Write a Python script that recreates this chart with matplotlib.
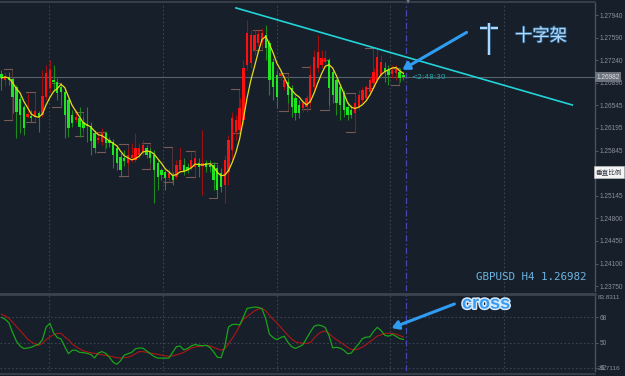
import matplotlib
matplotlib.use('Agg')
import matplotlib.pyplot as plt
import numpy as np
import pandas as pd
from matplotlib.patches import FancyArrowPatch
import matplotlib.patheffects as pe
import matplotlib.transforms as mtransforms

# ---------------- data (GBPUSD H4) ----------------
opens = [1.27029, 1.26936, 1.26982, 1.26951, 1.26828, 1.26642, 1.26519, 1.26364, 1.26380, 1.26364,
         1.26426, 1.26395, 1.26673, 1.26812, 1.26936, 1.26905, 1.26828, 1.26751, 1.26627, 1.26395,
         1.26318, 1.26349, 1.26287, 1.26256, 1.26225, 1.26117, 1.26009, 1.25978, 1.26117, 1.26009,
         1.25978, 1.25885, 1.25746, 1.25731, 1.25654, 1.25731, 1.25700, 1.25777, 1.25824, 1.25885,
         1.25824, 1.25777, 1.25654, 1.25545, 1.25515, 1.25422, 1.25468, 1.25437, 1.25545, 1.25623,
         1.25592, 1.25576, 1.25592, 1.25654, 1.25607, 1.25654, 1.25623, 1.25623, 1.25576, 1.25499,
         1.25314, 1.25515, 1.25854, 1.26133, 1.26163, 1.26318, 1.27168, 1.27199, 1.27399, 1.27508,
         1.27523, 1.27631, 1.27508, 1.27214, 1.27013, 1.26998, 1.26828, 1.26905, 1.26812, 1.26658,
         1.26550, 1.26503, 1.26519, 1.26581, 1.26828, 1.27121, 1.27168, 1.27214, 1.27245, 1.27060,
         1.26936, 1.26828, 1.26735, 1.26519, 1.26472, 1.26426, 1.26519, 1.26627, 1.26658, 1.26751,
         1.26890, 1.26936, 1.27013, 1.27121, 1.27090, 1.27029, 1.27044, 1.27060, 1.27013]
closes = [1.26967, 1.26998, 1.26936, 1.26673, 1.26442, 1.26395, 1.26194, 1.26411, 1.26349, 1.26457,
          1.26364, 1.26689, 1.27044, 1.27090, 1.26905, 1.26735, 1.26751, 1.26395, 1.26194, 1.26272,
          1.26364, 1.26210, 1.26194, 1.26225, 1.25994, 1.25885, 1.26040, 1.26117, 1.25963, 1.25963,
          1.25777, 1.25654, 1.25545, 1.25685, 1.25777, 1.25777, 1.25885, 1.25885, 1.25932, 1.25777,
          1.25731, 1.25545, 1.25437, 1.25468, 1.25422, 1.25499, 1.25391, 1.25623, 1.25700, 1.25515,
          1.25545, 1.25700, 1.25731, 1.25592, 1.25654, 1.25592, 1.25592, 1.25391, 1.25236, 1.25283,
          1.25700, 1.26009, 1.26349, 1.26318, 1.26503, 1.27121, 1.27662, 1.27631, 1.27631, 1.27647,
          1.27662, 1.27430, 1.26936, 1.26828, 1.26673, 1.27029, 1.26936, 1.26704, 1.26519, 1.26426,
          1.26426, 1.26581, 1.26658, 1.27013, 1.27291, 1.27369, 1.27276, 1.27276, 1.26812, 1.26704,
          1.26581, 1.26550, 1.26472, 1.26395, 1.26395, 1.26581, 1.26704, 1.26781, 1.26828, 1.26936,
          1.27060, 1.27291, 1.27214, 1.27060, 1.27013, 1.27090, 1.27121, 1.26967, 1.26982]
highs = [1.27090, 1.27060, 1.27060, 1.26982, 1.26859, 1.26689, 1.26550, 1.26735, 1.26472, 1.26550,
         1.26457, 1.27090, 1.27168, 1.27245, 1.27168, 1.26967, 1.26874, 1.26812, 1.26658, 1.26472,
         1.26472, 1.26519, 1.26364, 1.26519, 1.26287, 1.26163, 1.26133, 1.26194, 1.26148, 1.26055,
         1.26024, 1.25932, 1.25808, 1.25854, 1.25885, 1.25963, 1.26117, 1.25963, 1.26009, 1.25932,
         1.25885, 1.25854, 1.25700, 1.25576, 1.25545, 1.25576, 1.25515, 1.25700, 1.25901, 1.25731,
         1.25654, 1.25824, 1.25854, 1.25731, 1.26163, 1.25700, 1.25700, 1.25669, 1.25623, 1.25576,
         1.25777, 1.26086, 1.26442, 1.26395, 1.26658, 1.27245, 1.27863, 1.27708, 1.27708, 1.27708,
         1.27739, 1.27786, 1.27554, 1.27276, 1.27090, 1.27090, 1.27013, 1.26967, 1.26859, 1.26704,
         1.26627, 1.26627, 1.26704, 1.27168, 1.27399, 1.27631, 1.27399, 1.27399, 1.27276, 1.27090,
         1.26967, 1.26859, 1.26781, 1.26596, 1.26550, 1.26627, 1.26781, 1.26828, 1.26859, 1.26982,
         1.27121, 1.27430, 1.27322, 1.27214, 1.27168, 1.27168, 1.27168, 1.27121, 1.27060]
lows = [1.26781, 1.26843, 1.26859, 1.26426, 1.26040, 1.26117, 1.26086, 1.26349, 1.26287, 1.26318,
        1.26133, 1.26364, 1.26627, 1.26751, 1.26781, 1.26627, 1.26550, 1.26040, 1.26055, 1.26210,
        1.26287, 1.26055, 1.26163, 1.25978, 1.25777, 1.25808, 1.25963, 1.25932, 1.25885, 1.25901,
        1.25576, 1.25545, 1.25437, 1.25607, 1.25607, 1.25669, 1.25669, 1.25731, 1.25777, 1.25731,
        1.25654, 1.25036, 1.25236, 1.25391, 1.25236, 1.25360, 1.25314, 1.25406, 1.25515, 1.25468,
        1.25499, 1.25545, 1.25545, 1.25437, 1.25159, 1.25515, 1.25515, 1.25236, 1.25113, 1.25206,
        1.25036, 1.25314, 1.25700, 1.26009, 1.26086, 1.26241, 1.27090, 1.27121, 1.27322, 1.27461,
        1.27477, 1.27245, 1.26704, 1.26627, 1.26503, 1.26936, 1.26781, 1.26581, 1.26364, 1.26318,
        1.26349, 1.26442, 1.26442, 1.26550, 1.26781, 1.27060, 1.27121, 1.27168, 1.26550, 1.26581,
        1.26395, 1.26318, 1.26364, 1.26318, 1.26349, 1.26133, 1.26472, 1.26581, 1.26627, 1.26704,
        1.26828, 1.26905, 1.26967, 1.26905, 1.26859, 1.26967, 1.26936, 1.26905, 1.26936]

# oscillator (lower panel)
osc_fast = [68, 66.5, 64, 57, 51, 47.5, 45.7, 46, 46.6, 47.8,
            48.8, 52, 61, 63.7, 57, 53.5, 52.5, 47, 42, 44.5,
            44.5, 43, 42.8, 42.3, 41.5, 39, 42.5, 43.5, 42.3, 39.5,
            36, 34.5, 37, 41, 42, 43, 45.5, 46.1, 46, 44,
            42, 40, 38.9, 38.9, 38.9, 38.9, 43, 47, 47.5, 44.8,
            45.7, 47.5, 48.6, 48, 47.7, 48, 46.5, 43.4, 39.5, 39.2,
            47, 61, 62.8, 63, 62.5, 68, 74.3, 74.8, 75.2, 75,
            74, 67, 56, 53.5, 52, 53.5, 54.5, 50, 47, 45.8,
            47, 48.5, 53, 57.5, 61.5, 62.5, 62, 60.7, 55, 46.2,
            46.6, 46, 44.5, 42, 42.5, 46, 49, 52.8, 53.8, 54,
            58, 60.8, 58.5, 55.2, 54.5, 55.8, 54.5, 52.8, 52.2]
osc_slow = [70.2, 69, 67.2, 64.5, 61.5, 58.5, 55.5, 52.5, 50.5, 49,
            48, 49.5, 52, 54, 55.5, 56.5, 56.5, 54, 52, 49,
            47, 45.5, 44, 43.3, 42.7, 42.3, 41.8, 41.3, 40.8, 40.3,
            39.8, 39.2, 38.9, 39.2, 39.6, 40.5, 42, 43.5, 43.5, 43,
            42.5, 42, 41.5, 41, 40.5, 40.1, 40.5, 41.2, 42, 43,
            44.5, 46, 46.8, 47.2, 47.5, 48, 47.5, 46.5, 45.5, 44.5,
            45.5, 49, 52.9, 57, 62, 66.5, 68.5, 70.5, 72.5, 73.8,
            74.5, 72.5, 69.5, 66.5, 64, 61, 58, 55, 52.5, 50.5,
            49.8, 49.5, 49.4, 50, 53, 55.8, 57.5, 58.2, 56.5, 54,
            52, 50.5, 48.5, 46.5, 45, 44.8, 45.5, 46.8, 48.5, 50.5,
            52.5, 54.6, 55.5, 56.5, 56.5, 56.5, 56, 55, 54]

# daily high/low brackets: start bar, top, bottom
box_bar = [1, 7, 14, 20, 26, 32, 38, 44, 50, 56, 62, 68, 75, 81, 86, 93, 98, 105]
box_top = [1.27106, 1.26751, 1.26890, 1.26442, 1.26133, 1.25947, 1.25963, 1.25901, 1.25839,
           1.25654, 1.26797, 1.27708, 1.27044, 1.27137, 1.27245, 1.26735, 1.27430, 1.27121]
box_bot = [1.26318, 1.26287, 1.26519, 1.26071, 1.25824, 1.25453, 1.25561, 1.25360, 1.25437,
           1.25113, 1.26117, 1.27399, 1.26457, 1.26488, 1.26472, 1.26133, 1.26812, 1.26859]

# trend line (bar, price)
trend_x = [63.0, 153.4]
trend_y = [1.2805, 1.2655]

price_ticks = [1.27940, 1.27590, 1.27240, 1.26890, 1.26545, 1.26195, 1.25845,
               1.25145, 1.24800, 1.24450, 1.24100, 1.23750]
osc_levels = [68, 50, 32]
last_price = 1.26982
ma_period = 6

# ---------------- styling ----------------
BG = '#171f2a'
GRID = '#3b4451'
TXT = '#8a919b'
LBL_FONT = 'Liberation Sans'
W, H = 625, 376

fig = plt.figure(figsize=(W / 100, H / 100), dpi=100, facecolor=BG)

def fx(px):
    return px / W

def fy(py):
    return 1 - py / H

ax = fig.add_axes([0, fy(291), fx(595), (291 - 3) / H], facecolor=BG)
ax2 = fig.add_axes([0, fy(371), fx(595), (371 - 295) / H], facecolor=BG)

n = len(closes)
x = np.arange(n)
xl = (-0.4, 159.5)
for a in (ax, ax2):
    a.set_xlim(*xl)
    for s in ('top', 'left', 'bottom'):
        a.spines[s].set_visible(False)
    a.spines['right'].set_color('#4a525e')
    a.spines['right'].set_linewidth(1)
    a.set_xticks([])
    a.yaxis.tick_right()
    a.tick_params(axis='y', colors='#5a626d', labelcolor=TXT, labelsize=4.7,
                  length=2, width=0.6, pad=1.2)
    for lab in a.get_yticklabels():
        lab.set_family(LBL_FONT)
    # vertical dotted grid
    for gx in np.arange(12.85, 160, 30.54):
        a.axvline(gx, color=GRID, lw=0.8, ls=(0, (1.5, 2)), zorder=0)
    a.axvline(108.74, color='#4646b4', lw=0.9, ls=(0, (5, 2, 1, 2)), zorder=1)

ax.set_ylim(1.23676, 1.28126)
ax.set_yticks(price_ticks)
ax.set_yticklabels(['%.5f' % t for t in price_ticks], family=LBL_FONT)

o = np.array(opens); c = np.array(closes); h = np.array(highs); l = np.array(lows)
up = c >= o
# wicks
ax.vlines(x[up], l[up], h[up], color='#9c1010', lw=0.8, zorder=2)
ax.vlines(x[~up], l[~up], h[~up], color='#1c8a1c', lw=0.8, zorder=2)
# bodies
bh = np.maximum(np.abs(c - o), 0.00012)
bb = np.minimum(o, c)
ax.bar(x[up], bh[up], bottom=bb[up], width=0.62, color='#ff1010', lw=0, zorder=3)
ax.bar(x[~up], bh[~up], bottom=bb[~up], width=0.62, color='#1ee61e', lw=0, zorder=3)

# daily brackets
for b, t, bt in zip(box_bar, box_top, box_bot):
    ax.plot([b - 0.3, b + 1.9], [t, t], color='#7a5a56', lw=0.8, zorder=1.5)
    ax.plot([b - 0.3, b + 1.9], [bt, bt], color='#7a5a56', lw=0.8, zorder=1.5)
    ax.plot([b + 1.9, b + 1.9], [bt, t], color='#5a3a3a', lw=0.6, zorder=1.2)

# moving average
ma = pd.Series(closes).rolling(ma_period, min_periods=1).mean()
ax.plot(x, ma, color='#e6dc1c', lw=0.9, zorder=4)

# current price line
ax.axhline(last_price, color='#59616c', lw=0.8, zorder=1)
# trend line
ax.plot(trend_x, trend_y, color='#22d3d8', lw=1.2, zorder=5)

# right-side labels
trans = mtransforms.blended_transform_factory(ax.transAxes, ax.transData)
ax.text(1.003, last_price, '%.5f' % last_price, transform=trans, fontsize=4.7, color='#dde0e5',
        va='center', ha='left', zorder=10, clip_on=False, family=LBL_FONT,
        bbox=dict(boxstyle='square,pad=0.2', fc='#6c727c', ec='none'))
ax.text(110.0, last_price, '<2:48:30', fontsize=5.3, color='#20a8a8', va='center', ha='left',
        zorder=6)
fig.text(fx(609), fy(172), '垂直比例', fontsize=4.8, color='#333a44', ha='center', va='center',
         family=['Noto Sans CJK SC', 'DejaVu Sans'],
         bbox=dict(boxstyle='square,pad=0.25', fc='#f4f4f4', ec='#bbbbbb', lw=0.5))

# lower panel
ax2.set_ylim(29.7116, 83.8311)
ax2.set_yticks(osc_levels)
ax2.set_yticklabels([str(v) for v in osc_levels], family=LBL_FONT)
for v in osc_levels:
    ax2.axhline(v, color=GRID, lw=0.8, ls=(0, (1.5, 2)), zorder=0)
ax2.plot(x, osc_slow, color='#b01616', lw=0.8, zorder=3)
ax2.plot(x, osc_fast, color='#1aa31a', lw=0.9, zorder=4)
trans2 = mtransforms.blended_transform_factory(ax2.transAxes, ax2.transData)
ax2.text(1.005, 83.8311, '83.8311', transform=trans2, fontsize=4.6, color=TXT, va='top',
         ha='left', clip_on=False, family=LBL_FONT)
ax2.text(1.005, 29.7116, '29.7116', transform=trans2, fontsize=4.6, color=TXT, va='bottom',
         ha='left', clip_on=False, family=LBL_FONT)

# frame lines
fig.add_artist(plt.Line2D([0, fx(595)], [fy(1.5), fy(1.5)], color='#3c4450', lw=1.2))
fig.add_artist(plt.Line2D([0, fx(595)], [fy(293.5), fy(293.5)], color='#3c4450', lw=2.0))
fig.add_artist(plt.Line2D([0, fx(595)], [fy(373.5), fy(373.5)], color='#3c4450', lw=1.2))
fig.text(fx(408), fy(2), '▼', fontsize=4, color='#6c7480', ha='center', va='center')

# annotations
arrow_kw = dict(arrowstyle='-|>,head_length=4,head_width=2.5', color='#2f9cf2', lw=2.2,
                transform=fig.transFigure, zorder=20)
fig.add_artist(FancyArrowPatch((fx(469), fy(31)), (fx(400), fy(71)), **arrow_kw))
fig.add_artist(FancyArrowPatch((fx(457), fy(303)), (fx(389), fy(329)), **arrow_kw))

# cross glyph drawn as two strokes
outline = [pe.Stroke(linewidth=2.6, foreground='#2f5f88'), pe.Normal()]
fig.add_artist(plt.Line2D([fx(480), fx(498)], [fy(28), fy(28)], color='#b2dafc', lw=1.4,
                          solid_capstyle='butt', path_effects=outline))
fig.add_artist(plt.Line2D([fx(489), fx(489)], [fy(23), fy(55)], color='#b2dafc', lw=1.4,
                          solid_capstyle='butt', path_effects=outline))
txt_outline = [pe.withStroke(linewidth=1.2, foreground='#2f5f88')]
fig.text(fx(541), fy(36), '十字架', fontsize=12.5, color='#b2dafc', ha='center', va='center',
         family=['Noto Sans CJK SC', 'DejaVu Sans'], path_effects=txt_outline)
fig.text(fx(531), fy(277.5), 'GBPUSD H4 1.26982', fontsize=7.8, color='#6db5e2',
         ha='center', va='center', family='DejaVu Sans Mono')
fig.text(fx(486), fy(304), 'cross', fontsize=13, color='#3a9cf0', ha='center', va='center',
         family='Liberation Sans', weight='bold',
         path_effects=[pe.withStroke(linewidth=2.2, foreground='#d5eaff')])

fig.savefig('out.png', dpi=100, facecolor=BG)
